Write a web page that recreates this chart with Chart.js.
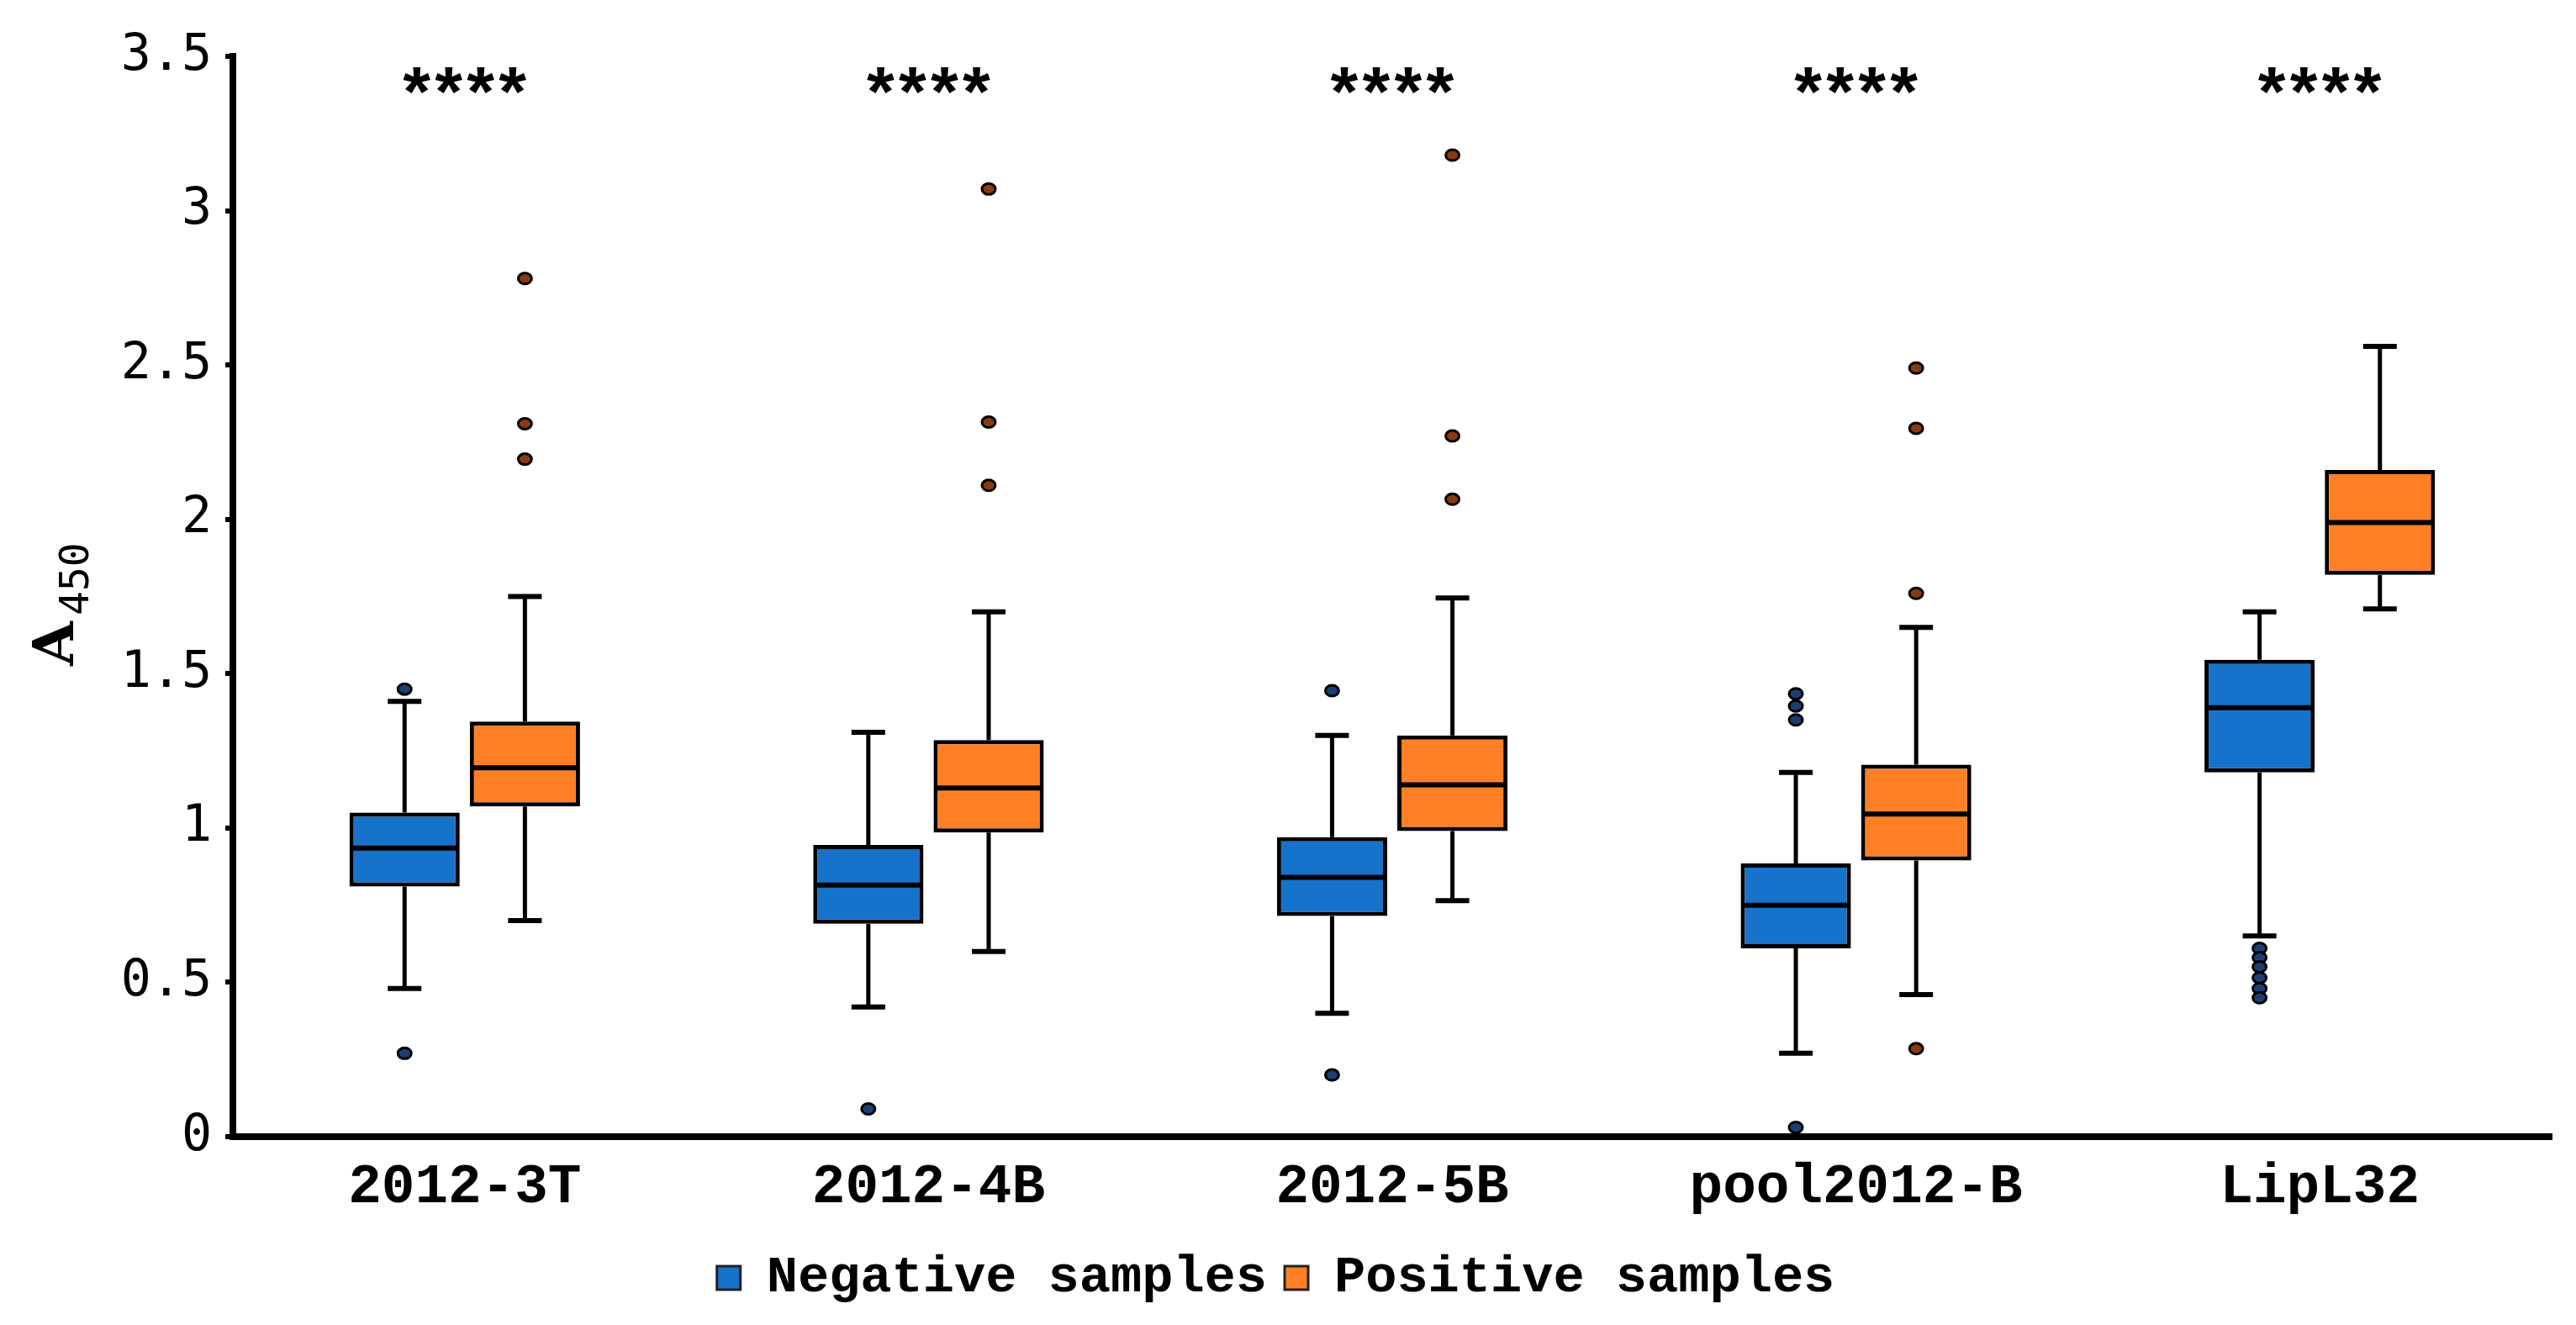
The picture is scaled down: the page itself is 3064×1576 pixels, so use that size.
<!DOCTYPE html>
<html>
<head>
<meta charset="utf-8">
<script src="https://cdn.jsdelivr.net/npm/chart.js@4.4.1/dist/chart.umd.min.js"></script>
<style>
  html, body { margin: 0; padding: 0; background: #fff; }
  #wrap { width: 3064px; height: 1576px; }
</style>
</head>
<body>
<div id="wrap"><canvas id="box-chart" width="3064" height="1576"></canvas></div>
<script>
const categories = ['2012-3T', '2012-4B', '2012-5B', 'pool2012-B', 'LipL32'];
const significance = ['****', '****', '****', '****', '****'];

// Negative samples
const negMin = [0.48, 0.42, 0.40, 0.27, 0.65];
const negQ1 = [0.81, 0.69, 0.715, 0.61, 1.18];
const negMedian = [0.935, 0.815, 0.84, 0.75, 1.39];
const negQ3 = [1.05, 0.945, 0.97, 0.885, 1.545];
const negMax = [1.41, 1.31, 1.30, 1.18, 1.70];
const negOutliers = [
    [1.45, 0.27],
    [0.09],
    [1.445, 0.20],
    [1.435, 1.395, 1.35, 0.03],
    [0.61, 0.58, 0.55, 0.515, 0.48, 0.45]
];

// Positive samples
const posMin = [0.70, 0.60, 0.765, 0.46, 1.71];
const posQ1 = [1.07, 0.985, 0.99, 0.895, 1.82];
const posMedian = [1.195, 1.13, 1.14, 1.045, 1.99];
const posQ3 = [1.345, 1.285, 1.30, 1.205, 2.16];
const posMax = [1.75, 1.70, 1.745, 1.65, 2.56];
const posOutliers = [
    [2.78, 2.31, 2.195],
    [3.07, 2.315, 2.11],
    [3.18, 2.27, 2.065],
    [2.49, 2.295, 1.76, 0.285],
    []
];

const blue = '#1672CA';
const orange = '#FF7F24';

const boxGroups = [
    { min: negMin, med: negMedian, max: negMax, out: negOutliers, dot: '#1b3f73' },
    { min: posMin, med: posMedian, max: posMax, out: posOutliers, dot: '#8a3a10' }
];

// whiskers, medians, outliers and the stars on top of the floating bars
const boxPlotExtras = {
    id: 'boxPlotExtras',
    afterDatasetsDraw(chart) {
        const { ctx, scales: { x, y } } = chart;
        ctx.save();
        ctx.strokeStyle = '#000';
        boxGroups.forEach((g, di) => {
            const meta = chart.getDatasetMeta(di);
            meta.data.forEach((bar, i) => {
                const { x: cx, width } = bar.getProps(['x', 'width'], true);
                const half = width / 2;
                const yQ1 = y.getPixelForValue(chart.data.datasets[di].data[i][0]);
                const yQ3 = y.getPixelForValue(chart.data.datasets[di].data[i][1]);
                const yMin = y.getPixelForValue(g.min[i]);
                const yMax = y.getPixelForValue(g.max[i]);
                const yMed = y.getPixelForValue(g.med[i]);

                ctx.lineWidth = 5;
                ctx.beginPath();
                ctx.moveTo(cx, yQ3);
                ctx.lineTo(cx, yMax);
                ctx.moveTo(cx, yQ1);
                ctx.lineTo(cx, yMin);
                ctx.stroke();

                ctx.lineWidth = 6;
                ctx.beginPath();
                ctx.moveTo(cx - 20, yMax);
                ctx.lineTo(cx + 20, yMax);
                ctx.moveTo(cx - 20, yMin);
                ctx.lineTo(cx + 20, yMin);
                ctx.moveTo(cx - half + 2, yMed);
                ctx.lineTo(cx + half - 2, yMed);
                ctx.stroke();

                ctx.lineWidth = 3;
                ctx.fillStyle = g.dot;
                g.out[i].forEach(v => {
                    ctx.beginPath();
                    ctx.ellipse(cx, y.getPixelForValue(v), 8, 6.5, 0, 0, Math.PI * 2);
                    ctx.fill();
                    ctx.stroke();
                });
            });
        });

        // significance stars, one glyph at a time to keep them tight
        ctx.fillStyle = '#000';
        ctx.font = 'bold 84px "Liberation Mono"';
        ctx.textAlign = 'center';
        ctx.textBaseline = 'alphabetic';
        const pitch = 38;
        significance.forEach((s, i) => {
            const cx = x.getPixelForValue(i);
            const start = cx - pitch * (s.length - 1) / 2;
            for (let k = 0; k < s.length; k++) {
                ctx.fillText(s[k], start + k * pitch, y.top + 74);
            }
        });
        ctx.restore();
    },
    afterDraw(chart) {
        // y axis title A with subscript 450
        const { ctx } = chart;
        ctx.save();
        ctx.translate(87, 790);
        ctx.rotate(-Math.PI / 2);
        ctx.fillStyle = '#000';
        ctx.textAlign = 'left';
        ctx.textBaseline = 'alphabetic';
        ctx.font = 'bold 68px "DejaVu Serif"';
        ctx.fillText('A', -2, 0);
        ctx.font = '48px "DejaVu Sans Mono"';
        ctx.fillText('450', 58, 18);
        ctx.restore();
    }
};

const ctx = document.getElementById('box-chart').getContext('2d');
const boxChart = new Chart(ctx, {
    type: 'bar',
    data: {
        labels: categories,
        datasets: [
            {
                label: 'Negative samples',
                data: categories.map((c, i) => [negQ1[i], negQ3[i]]),
                backgroundColor: blue,
                borderColor: '#000',
                borderWidth: 5,
                borderSkipped: false,
                categoryPercentage: 0.519,
                barPercentage: 0.916
            },
            {
                label: 'Positive samples',
                data: categories.map((c, i) => [posQ1[i], posQ3[i]]),
                backgroundColor: orange,
                borderColor: '#000',
                borderWidth: 5,
                borderSkipped: false,
                categoryPercentage: 0.519,
                barPercentage: 0.916
            }
        ]
    },
    options: {
        responsive: false,
        devicePixelRatio: 1,
        animation: false,
        layout: {
            padding: { left: 0, right: 29, top: 67, bottom: 15 }
        },
        plugins: {
            legend: {
                position: 'bottom',
                labels: {
                    color: '#000',
                    boxWidth: 28,
                    boxHeight: 28,
                    padding: 21,
                    font: { family: 'Liberation Mono', weight: 'bold', size: 62 },
                    generateLabels(chart) {
                        return chart.data.datasets.map((ds, i) => ({
                            text: ds.label,
                            fillStyle: ds.backgroundColor,
                            strokeStyle: '#222',
                            lineWidth: 3,
                            datasetIndex: i
                        }));
                    }
                }
            },
            tooltip: { enabled: false }
        },
        scales: {
            x: {
                grid: { display: false, drawTicks: false },
                border: { display: true, color: '#000', width: 8 },
                ticks: {
                    color: '#000',
                    padding: 22,
                    font: { family: 'Liberation Mono', weight: 'bold', size: 66 }
                },
                afterFit: scale => { scale.height = 116; }
            },
            y: {
                min: 0,
                max: 3.5,
                ticks: {
                    stepSize: 0.5,
                    color: '#000',
                    padding: 16,
                    font: { family: 'DejaVu Sans Mono', size: 60 },
                    callback: value => String(value)
                },
                grid: { drawOnChartArea: false, drawTicks: true, tickLength: 9, lineWidth: 6, color: '#000' },
                border: { display: true, color: '#000', width: 8 },
                afterFit: scale => { scale.width = 277; }
            }
        }
    },
    plugins: [boxPlotExtras]
});
</script>
</body>
</html>
